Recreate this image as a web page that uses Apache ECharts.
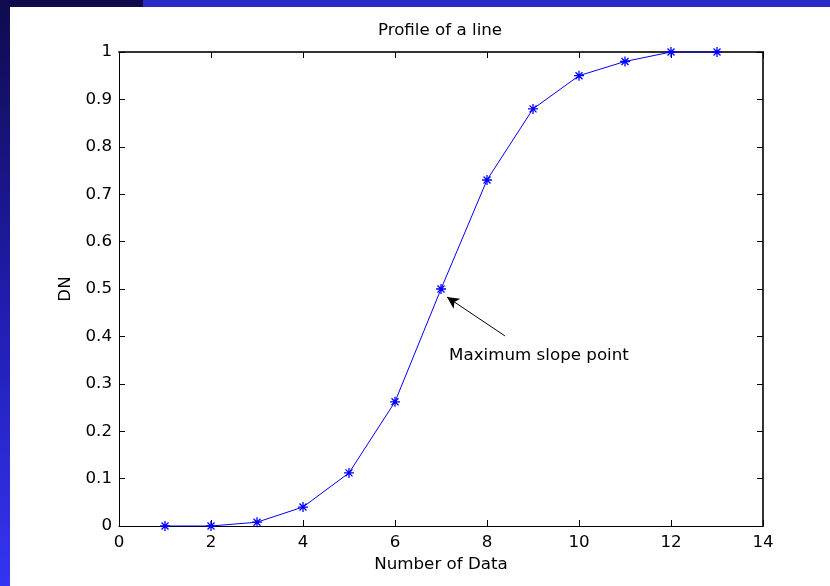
<!DOCTYPE html>
<html>
<head>
<meta charset="utf-8">
<style>
  html, body { margin: 0; padding: 0; background: #ffffff; }
  #chart { width: 830px; height: 586px; }
</style>
<script src="https://cdn.jsdelivr.net/npm/echarts@6/dist/echarts.min.js"></script>
</head>
<body>
<div id="chart"></div>
<script>
// Sample index along the profile and the DN measured at each sample
const sampleIndex = [1, 2, 3, 4, 5, 6, 7, 8, 9, 10, 11, 12, 13];
const dnValues = [0, 0, 0.008, 0.04, 0.112, 0.262, 0.5, 0.73, 0.88, 0.95, 0.98, 1, 1];

// Axis ranges
const xRange = [0, 14, 2];
const yRange = [0, 1, 0.1];

// Annotation: arrow from the caption towards the steepest point
const arrowFrom = [8.39, 0.401];
const arrowTo = [7.13, 0.483];
const captionAt = [9.13, 0.359];
const captionText = 'Maximum slope point';

const chart = echarts.init(document.getElementById('chart'), null, { renderer: 'canvas' });

const font = 'DejaVu Sans, Verdana, sans-serif';
const fontSize = 16.7;
const star = 'path://M0,-1L0,1M-1,0L1,0M-0.7,-0.7L0.7,0.7M-0.7,0.7L0.7,-0.7';

function valueAxis(range, pos, showLabel, extra) {
  return Object.assign({
    type: 'value',
    position: pos,
    min: range[0],
    max: range[1],
    interval: range[2],
    axisLine: { show: true, onZero: false, lineStyle: { color: '#000', width: 1 } },
    axisTick: { show: true, inside: true, length: 6, lineStyle: { color: '#000' } },
    splitLine: { show: false },
    axisLabel: {
      show: showLabel,
      color: '#000',
      fontFamily: font,
      fontSize: fontSize
    }
  }, extra || {});
}

// top and right frame edges are drawn a little heavier
const frameEdge = { show: true, onZero: false, lineStyle: { color: '#333', width: 2 } };

chart.setOption({
  animation: false,
  backgroundColor: '#ffffff',
  graphic: [
    {
      type: 'rect',
      shape: { x: 0, y: 0, width: 10, height: 586 },
      style: {
        fill: new echarts.graphic.LinearGradient(0, 0, 0, 1, [
          { offset: 0, color: '#0f0b4c' },
          { offset: 0.5, color: '#1f1cab' },
          { offset: 1, color: '#3434f2' }
        ])
      },
      silent: true
    },
    {
      type: 'rect',
      shape: { x: 0, y: 0, width: 143, height: 7 },
      style: { fill: '#0f0b4c' },
      silent: true
    },
    {
      type: 'rect',
      shape: { x: 143, y: 0, width: 687, height: 7 },
      style: { fill: '#2b2bcc' },
      silent: true
    }
  ],
  title: {
    text: 'Profile of a line',
    left: 440,
    top: 22,
    padding: 0,
    textAlign: 'center',
    textStyle: { color: '#000', fontFamily: font, fontSize: fontSize, fontWeight: 'normal' }
  },
  grid: { left: 119, right: 67, top: 52, bottom: 60, show: false },
  xAxis: [
    valueAxis(xRange, 'bottom', true, {
      name: 'Number of Data',
      nameLocation: 'middle',
      nameGap: 28,
      nameTextStyle: { color: '#000', fontFamily: font, fontSize: fontSize },
      axisLabel: { show: true, color: '#000', fontFamily: font, fontSize: fontSize, margin: 8 }
    }),
    valueAxis(xRange, 'top', false, { axisLine: frameEdge })
  ],
  yAxis: [
    valueAxis(yRange, 'left', true, {
      name: 'DN',
      nameLocation: 'middle',
      nameGap: 43,
      nameTextStyle: { color: '#000', fontFamily: font, fontSize: fontSize },
      axisLabel: { show: true, color: '#000', fontFamily: font, fontSize: fontSize, margin: 7 }
    }),
    valueAxis(yRange, 'right', false, { axisLine: frameEdge })
  ],
  series: [
    {
      type: 'line',
      data: sampleIndex.map((x, i) => [x, dnValues[i]]),
      xAxisIndex: 0,
      yAxisIndex: 0,
      lineStyle: { color: '#0000ff', width: 1 },
      itemStyle: { color: 'none', borderColor: '#0000ff', borderWidth: 1.3 },
      symbol: star,
      symbolSize: 10,
      showSymbol: true,
      markLine: {
        silent: true,
        symbol: ['none', 'arrow'],
        symbolSize: [9, 12],
        label: { show: false },
        lineStyle: { color: '#000', width: 1, type: 'solid' },
        itemStyle: { color: '#000' },
        data: [[{ coord: arrowFrom }, { coord: arrowTo }]]
      },
      markPoint: {
        silent: true,
        symbol: 'circle',
        symbolSize: 0,
        label: {
          show: true,
          position: 'inside',
          formatter: captionText,
          color: '#000',
          fontFamily: font,
          fontSize: fontSize
        },
        data: [{ coord: captionAt }]
      }
    }
  ]
});
</script>
</body>
</html>
